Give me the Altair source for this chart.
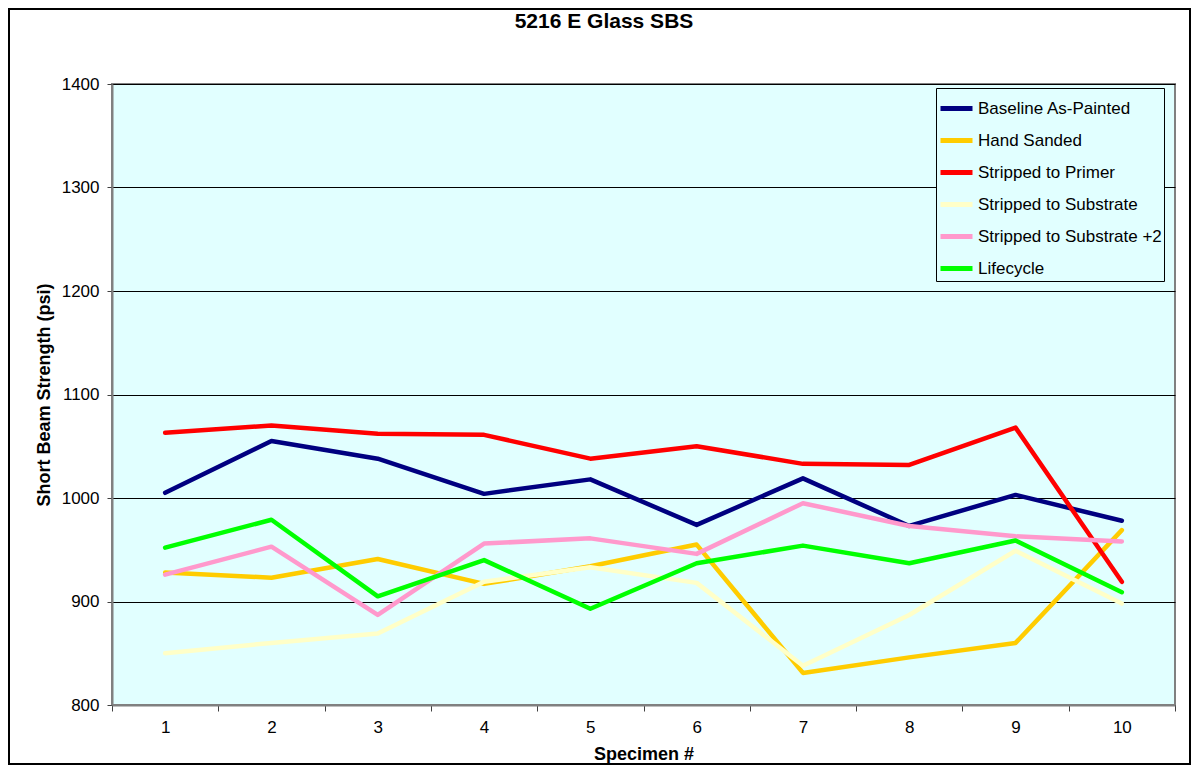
import altair as alt
import pandas as pd

chart_title = "5216 E Glass SBS"
specimens = [1, 2, 3, 4, 5, 6, 7, 8, 9, 10]
series_names = [
    "Baseline As-Painted",
    "Hand Sanded",
    "Stripped to Primer",
    "Stripped to Substrate",
    "Stripped to Substrate +2",
    "Lifecycle",
]
series_colors = ["#000080", "#FFCC00", "#FF0000", "#FFFFC8", "#FF99CC", "#00FF00"]

baseline = [1005, 1055, 1038, 1004, 1018, 974, 1019, 973, 1003, 978]
hand_sanded = [928, 923, 941, 917, 934, 955, 831, 846, 860, 969]
primer = [1063, 1070, 1062, 1061, 1038, 1050, 1033, 1032, 1068, 919]
substrate = [850, 860, 869, 919, 933, 918, 838, 887, 949, 898]
substrate2 = [926, 953, 887, 956, 961, 946, 995, 973, 963, 958]
lifecycle = [952, 979, 905, 940, 893, 937, 954, 937, 959, 909]

y_ticks = [800, 900, 1000, 1100, 1200, 1300, 1400]

all_values = [baseline, hand_sanded, primer, substrate, substrate2, lifecycle]
rows = []
for order, (name, vals) in enumerate(zip(series_names, all_values)):
    for s, v in zip(specimens, vals):
        rows.append({"Specimen": s, "Series": name, "Value": v, "order": order})
df = pd.DataFrame(rows)

FONT = "Liberation Sans"
BG = "#E1FFFF"

lines = alt.Chart(df).mark_line(strokeWidth=4.5, strokeJoin="round", strokeCap="round").encode(
    x=alt.X(
        "Specimen:O",
        bandPosition=0.5,
        scale=alt.Scale(type="band", paddingInner=0, paddingOuter=0),
        axis=alt.Axis(
            title="Specimen #",
            labelAngle=0,
            tickBand="extent",
            tickSize=6,
            tickColor="#404040",
            labelFontSize=17,
            labelFont=FONT,
            labelColor="black",
            labelPadding=8,
            domainColor="#808080",
            domainWidth=2,
            titleFontSize=18,
            titleFont=FONT,
            titleFontWeight="bold",
            titleColor="black",
            titlePadding=10,
        ),
    ),
    y=alt.Y(
        "Value:Q",
        scale=alt.Scale(domain=[800, 1400], nice=False, zero=False),
        axis=alt.Axis(
            title="Short Beam Strength (psi)",
            values=y_ticks,
            format="d",
            tickSize=5,
            tickColor="#404040",
            labelFontSize=17,
            labelFont=FONT,
            labelColor="black",
            labelPadding=8,
            domainColor="#808080",
            domainWidth=2,
            grid=True,
            gridColor="black",
            gridWidth=1,
            titleFontSize=18,
            titleFont=FONT,
            titleFontWeight="bold",
            titleColor="black",
            titlePadding=8,
        ),
    ),
    color=alt.Color(
        "Series:N",
        scale=alt.Scale(domain=series_names, range=series_colors),
        legend=alt.Legend(
            orient="none",
            legendX=824,
            legendY=4,
            title=None,
            symbolType="stroke",
            symbolStrokeWidth=5,
            symbolSize=1024,
            labelFontSize=17,
            labelFont=FONT,
            labelColor="black",
            labelOffset=3,
            labelLimit=400,
            fillColor=BG,
            strokeColor="black",
            padding=2,
            rowPadding=3,
        ),
    ),
    detail="order:O",
    order="order:Q",
)

frame = alt.Chart(pd.DataFrame({"a": [0]})).mark_rect(filled=False, stroke="black", strokeWidth=2).encode(
    x=alt.value(-103), x2=alt.value(1078), y=alt.value(-75), y2=alt.value(680)
)

title_text = alt.Chart(pd.DataFrame({"t": [chart_title]})).mark_text(
    font=FONT, fontSize=21, fontWeight="bold", color="black", align="center", baseline="alphabetic"
).encode(text="t:N", x=alt.value(492), y=alt.value(-56))

chart = alt.layer(lines, frame, title_text).properties(
    width=1063,
    height=621,
    autosize=alt.AutoSizeParams(type="none"),
    padding={"left": 104, "top": 76, "right": 18, "bottom": 60},
    background="white",
).configure_view(
    fill=BG, stroke="#808080", strokeWidth=2
)

chart.save("out.html", embed_options={"renderer": "svg", "actions": False})
